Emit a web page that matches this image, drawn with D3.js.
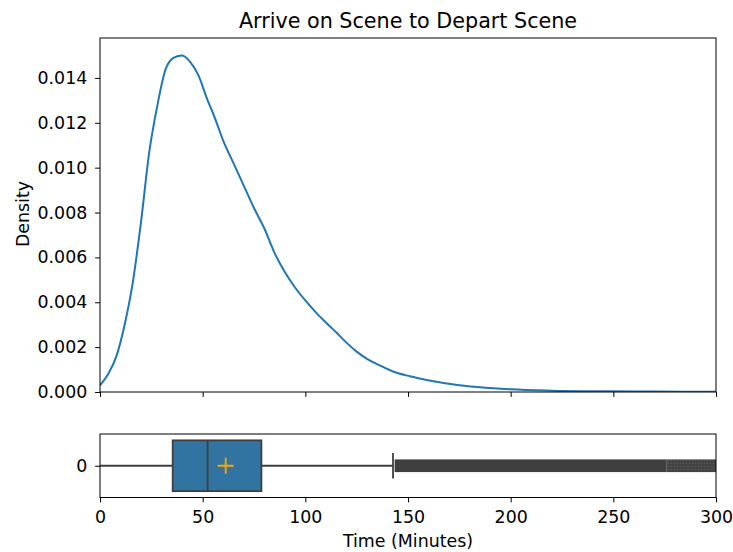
<!DOCTYPE html>
<html>
<head>
<meta charset="utf-8">
<script src="https://cdn.jsdelivr.net/npm/d3@7"></script>
<style>
  html, body { margin: 0; padding: 0; background: #fff; }
  svg { display: block; font-family: "DejaVu Sans", sans-serif; }
</style>
</head>
<body>
<svg id="chart" width="733" height="552"></svg>
<script>
// ---- data ----
const kdeTime = [0, 4, 8, 12, 16, 20, 24, 28, 32, 36, 40, 44, 48, 52, 56, 60, 65, 70, 75, 80, 85, 90, 95, 100, 105, 110, 115, 120, 125, 130, 136, 143, 151, 161, 175, 190, 200, 220, 245, 270, 300];
const kdeDensity = [0.0003, 0.0008, 0.0016, 0.0030, 0.0049, 0.0076, 0.0107, 0.0128, 0.0144, 0.0149, 0.0150, 0.0147, 0.0141, 0.0131, 0.0122, 0.0112, 0.0102, 0.0092, 0.0082, 0.0073, 0.0062, 0.00535, 0.00466, 0.00408, 0.00356, 0.0031, 0.00266, 0.0022, 0.0018, 0.00148, 0.0012, 0.0009, 0.0007, 0.0005, 0.0003, 0.00018, 0.00012, 0.00006, 0.00003, 0.00002, 0.00001];
const yTicks = [0, 0.002, 0.004, 0.006, 0.008, 0.010, 0.012, 0.014];
const xTicks = [0, 50, 100, 150, 200, 250, 300];
const boxStats = { whiskerLow: 0, q1: 35.4, median: 52.4, q3: 78.6, whiskerHigh: 142.7, mean: 61.2 };
const outlierDense = [143.5, 276];
const outlierSparse = [276, 300];
const title = "Arrive on Scene to Depart Scene";
const xLabel = "Time (Minutes)";
const yLabel = "Density";

// ---- layout ----
const svg = d3.select("#chart");
const L = 100, R = 716;
const top1 = 38, bot1 = 392;
const top2 = 434, bot2 = 497.5;
const ink = "#000";
const fs = 17.4;

const x = d3.scaleLinear().domain([0, 300]).range([L, R]);
const y = d3.scaleLinear().domain([0, 0.01578]).range([bot1, top1]);
const yb = d3.scaleLinear().domain([0.5, -0.5]).range([top2, bot2]);

svg.append("clipPath").attr("id", "c1").append("rect")
  .attr("x", L).attr("y", top1).attr("width", R - L).attr("height", bot1 - top1);
svg.append("clipPath").attr("id", "c2").append("rect")
  .attr("x", L).attr("y", top2).attr("width", R - L).attr("height", bot2 - top2);

// density line
const pts = kdeTime.map((t, i) => [t, kdeDensity[i]]);
svg.append("path")
  .attr("clip-path", "url(#c1)")
  .attr("d", d3.line().x(d => x(d[0])).y(d => y(d[1])).curve(d3.curveMonotoneX)(pts))
  .attr("fill", "none").attr("stroke", "#1f77b4").attr("stroke-width", 2)
  .attr("stroke-linejoin", "round");

// top axes
const yAxis = d3.axisLeft(y).tickValues(yTicks).tickFormat(d3.format(".3f")).tickSize(4.9).tickPadding(7.8);
const gy = svg.append("g").attr("transform", `translate(${L},0)`).call(yAxis);
const xAxisTop = d3.axisBottom(x).tickValues(xTicks).tickFormat("").tickSize(4.9);
const gxt = svg.append("g").attr("transform", `translate(0,${bot1})`).call(xAxisTop);

// bottom axes: boxplot
const g2 = svg.append("g").attr("clip-path", "url(#c2)");
const boxColor = "#3274a1", lineColor = "#3f3f3f";
g2.append("line").attr("x1", x(boxStats.whiskerLow)).attr("x2", x(boxStats.q1))
  .attr("y1", yb(0)).attr("y2", yb(0)).attr("stroke", lineColor).attr("stroke-width", 1.8);
g2.append("line").attr("x1", x(boxStats.q3)).attr("x2", x(boxStats.whiskerHigh))
  .attr("y1", yb(0)).attr("y2", yb(0)).attr("stroke", lineColor).attr("stroke-width", 1.8);
g2.append("line").attr("x1", x(boxStats.whiskerHigh)).attr("x2", x(boxStats.whiskerHigh))
  .attr("y1", yb(0.2)).attr("y2", yb(-0.2)).attr("stroke", lineColor).attr("stroke-width", 1.8);
// outliers (dense band of thin-diamond markers)
g2.append("rect").attr("x", x(outlierDense[0])).attr("width", x(outlierDense[1]) - x(outlierDense[0]))
  .attr("y", yb(0.1)).attr("height", yb(-0.1) - yb(0.1)).attr("fill", lineColor);
const pat = svg.append("defs").append("pattern").attr("id", "sp")
  .attr("patternUnits", "userSpaceOnUse").attr("width", 3).attr("height", 3);
pat.append("rect").attr("width", 3).attr("height", 3).attr("fill", "#444");
pat.append("rect").attr("x", 2).attr("y", 1).attr("width", 1).attr("height", 1).attr("fill", "#5c5c5c");
g2.append("rect").attr("x", x(outlierSparse[0])).attr("width", x(outlierSparse[1]) - x(outlierSparse[0]))
  .attr("y", yb(0.1)).attr("height", yb(-0.1) - yb(0.1)).attr("fill", "url(#sp)");
// box
g2.append("rect").attr("x", x(boxStats.q1)).attr("width", x(boxStats.q3) - x(boxStats.q1))
  .attr("y", yb(0.4)).attr("height", yb(-0.4) - yb(0.4))
  .attr("fill", boxColor).attr("stroke", lineColor).attr("stroke-width", 1.8);
g2.append("line").attr("x1", x(boxStats.median)).attr("x2", x(boxStats.median))
  .attr("y1", yb(0.4)).attr("y2", yb(-0.4)).attr("stroke", lineColor).attr("stroke-width", 1.8);
// mean marker
const mx = x(boxStats.mean), my = yb(0);
g2.append("path").attr("d", `M${mx - 8},${my}H${mx + 8}M${mx},${my - 8}V${my + 8}`)
  .attr("stroke", "#ffa500").attr("stroke-width", 1.8).attr("fill", "none");

const yAxisB = d3.axisLeft(yb).tickValues([0]).tickFormat(d3.format("d")).tickSize(4.9).tickPadding(7.8);
const gyb = svg.append("g").attr("transform", `translate(${L},0)`).call(yAxisB);
const xAxisB = d3.axisBottom(x).tickValues(xTicks).tickFormat(d3.format("d")).tickSize(4.9).tickPadding(8.4);
const gxb = svg.append("g").attr("transform", `translate(0,${bot2})`).call(xAxisB);

[gy, gxt, gyb, gxb].forEach(g => {
  g.select(".domain").remove();
  g.selectAll("line").attr("stroke", ink).attr("stroke-width", 1);
  g.selectAll("text").attr("font-size", fs).attr("fill", ink).attr("font-family", "DejaVu Sans, sans-serif");
});

// spines
svg.append("rect").attr("x", L).attr("y", top1).attr("width", R - L).attr("height", bot1 - top1)
  .attr("fill", "none").attr("stroke", ink).attr("stroke-width", 1);
svg.append("rect").attr("x", L).attr("y", top2).attr("width", R - L).attr("height", bot2 - top2)
  .attr("fill", "none").attr("stroke", ink).attr("stroke-width", 1);

// labels
svg.append("text").attr("x", (L + R) / 2).attr("y", 28.3).attr("text-anchor", "middle")
  .attr("font-size", 20.7).attr("fill", ink).text(title);
svg.append("text").attr("x", (L + R) / 2).attr("y", 547).attr("text-anchor", "middle")
  .attr("font-size", fs).attr("fill", ink).text(xLabel);
svg.append("text").attr("transform", `translate(28.5,${(top1 + bot1) / 2 - 1}) rotate(-90)`)
  .attr("text-anchor", "middle").attr("font-size", fs).attr("fill", ink).text(yLabel);
</script>
</body>
</html>
